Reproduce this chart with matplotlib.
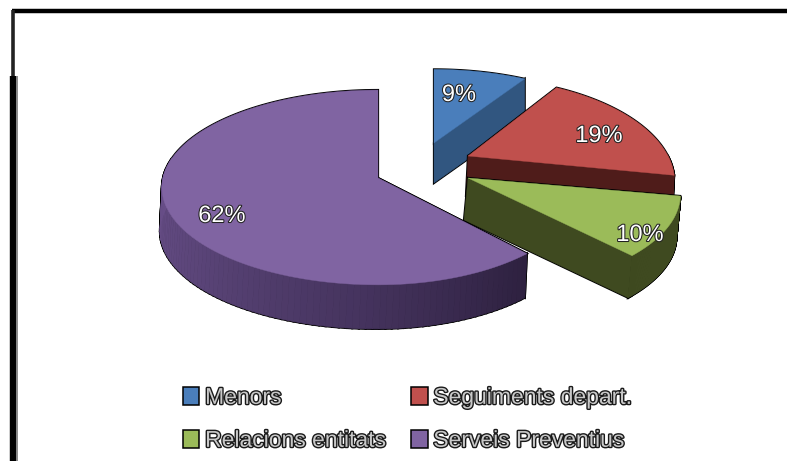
import numpy as np
import matplotlib
matplotlib.use("Agg")
import matplotlib.pyplot as plt
import matplotlib.patheffects as pe
from matplotlib.patches import Polygon, Patch
from matplotlib.lines import Line2D
from matplotlib.colors import to_rgb

# Data
categories = ["Menors", "Seguiments depart.", "Relacions entitats", "Serveis Preventius"]
percent = [9, 19, 10, 62]

# Styles
top_colors = ["#4A7EBB", "#C0504D", "#9BBB59", "#8064A2"]
cut_colors = ["#315680", "#4F1C1A", "#3F4A20", "#2E2140"]
# apex x, apex y, rx right, rx left, ry, perspective, depth, depth dx
geom = [
    (434, 143, 205, 205, 92, 0.25, 40, 0),
    (468, 156, 200, 200, 98, 0.25, 40, -2),
    (468, 178, 209, 209, 93, 0.175, 42, -4),
    (378, 178, 202, 215, 96.5, 0.097, 44, -2),
]
label_pos = [(459, 95), (599, 136), (640, 235), (222, 216)]
wall_ramp = ["#2E2140", "#46345F", "#5B4579", "#6A4F8A"]

fig = plt.figure(figsize=(7.87, 4.61), dpi=100)
ax = fig.add_axes([0, 0, 1, 1])
ax.set_xlim(0, 787)
ax.set_ylim(461, 0)
ax.axis("off")


def project(theta_deg, g):
    cx, cy, rxr, rxl, ry, k, _, _ = g
    t = np.radians(theta_deg)
    c, s = np.cos(t), np.sin(t)
    den = 1 + k * s
    rx = np.where(c >= 0, rxr, rxl)
    return cx + rx * c / den, cy - ry * s / den


def ramp_color(f):
    cols = np.array([to_rgb(c) for c in wall_ramp])
    return tuple(np.array([np.interp(f, np.linspace(0, 1, len(cols)), cols[:, i]) for i in range(3)]))


# slice angles from values, clockwise from 12 o'clock
edges = 90 - np.cumsum([0] + percent) * 3.6

for i, g in enumerate(geom):
    a0, a1 = edges[i], edges[i + 1]
    cx, cy, *_, depth, ddx = g
    thetas = np.linspace(a0, a1, 120)
    x, y = project(thetas, g)
    top = np.column_stack([np.r_[cx, x], np.r_[cy, y]])

    # cut face polygon (facing viewer)
    fx, fy = project(np.array([a1 if i < 3 else a0]), g)
    cut = [(cx, cy), (fx[0], fy[0]), (fx[0] + ddx, fy[0] + depth), (cx + ddx, cy + depth)]

    # outer wall
    wall_t = thetas[(np.sin(np.radians(thetas)) <= 0.02)]
    if i == 3:
        wall_t = np.linspace(a0, -192, 90)
    quads = []
    if len(wall_t) > 1:
        wx, wy = project(wall_t, g)
        for j in range(len(wall_t) - 1):
            quads.append([(wx[j], wy[j]), (wx[j + 1], wy[j + 1]),
                          (wx[j + 1] + ddx, wy[j + 1] + depth), (wx[j] + ddx, wy[j] + depth)])

    # black silhouette
    for poly in [top, cut] + quads:
        ax.add_patch(Polygon(poly, closed=True, fc="black", ec="black", lw=1.6, zorder=i * 10 + 1))
    ax.add_patch(Polygon(cut, closed=True, fc=cut_colors[i], ec=cut_colors[i], lw=0.3, zorder=i * 10 + 2))
    for j, q in enumerate(quads):
        col = ramp_color(j / max(len(quads) - 1, 1)) if i == 3 else cut_colors[i]
        ax.add_patch(Polygon(q, closed=True, fc=col, ec=col, lw=0.5, zorder=i * 10 + 2))
    ax.add_patch(Polygon(top, closed=True, fc=top_colors[i], ec=top_colors[i], lw=0.3, zorder=i * 10 + 3))

# percentage labels
for p, (lx, ly) in zip(percent, label_pos):
    ax.text(lx, ly, f"{p}%", ha="center", va="center", fontsize=17, color="white",
            family="Liberation Sans", zorder=60,
            path_effects=[pe.withStroke(linewidth=1.5, foreground="#222222")])

# frame
ax.add_line(Line2D([12, 787], [11.5, 11.5], color="black", lw=3.2, solid_capstyle="butt", zorder=70))
ax.add_line(Line2D([12.5, 12.5], [10, 76], color="#222222", lw=2.6, solid_capstyle="butt", zorder=70))
ax.add_line(Line2D([13, 13], [76, 461], color="black", lw=4.6, solid_capstyle="butt", zorder=70))
ax.add_line(Line2D([16.5, 16.5], [76, 461], color="#777777", lw=1.2, solid_capstyle="butt", zorder=70))

# legend (column-first ordering)
order = [0, 2, 1, 3]
handles = [Patch(fc=top_colors[i], ec="black", lw=1.1) for i in order]
labels = [categories[i] for i in order]
leg = ax.legend(handles, labels, ncol=2, loc="upper left", bbox_to_anchor=(176, 379),
                bbox_transform=ax.transData, frameon=False,
                prop={"family": "Liberation Sans", "size": 16.5},
                handlelength=0.72, handleheight=0.85, handletextpad=0.25,
                labelspacing=0.87, columnspacing=1.1, borderaxespad=0, borderpad=0.3)
leg.set_zorder(80)
for t in leg.get_texts():
    t.set_color("#C8C8C8")
    t.set_path_effects([pe.withStroke(linewidth=2.0, foreground="#1A1A1A")])

fig.savefig("out.png", dpi=100, facecolor="white")
